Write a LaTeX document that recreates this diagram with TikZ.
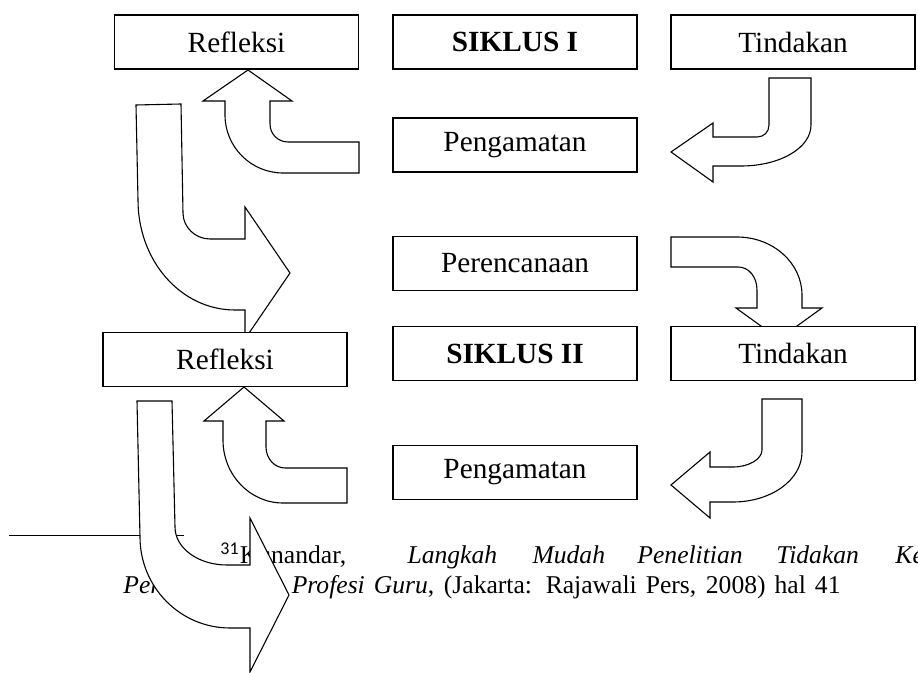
\documentclass[tikz,border=0pt]{standalone}
\usepackage{fontspec}
\setmainfont{Liberation Serif}
\newfontfamily\supfont{Carlito}
\usepackage{tikz}
\tikzstyle{box} = [rectangle, minimum width=100pt, minimum height=22.3pt, inner sep=0pt, text centered, draw=black, fill=white, line width=0.6pt, font=\fontsize{12}{14}\selectfont]
\tikzstyle{blockarrow} = [draw=black, fill=white, line width=0.45pt, line join=miter]
\tikzstyle{footnote} = [anchor=base west, inner sep=0pt, font=\fontsize{10.5}{12.6}\selectfont]

\begin{document}
\begin{tikzpicture}[x=0.41pt, y=-0.41pt]
        \useasboundingbox (0,0) rectangle (918,673);

        \draw [line width=0.4pt] (9,535) -- (184,535);
        \node (fnline1) [footnote] at (220,564) {\makebox[76.7pt][l]{\textsuperscript{\supfont 31}Kunandar,}\makebox[51.25pt][l]{\textit{Langkah}}\makebox[43pt][l]{\textit{Mudah}}\makebox[57pt][l]{\textit{Penelitian}}\makebox[48.8pt][l]{\textit{Tidakan}}\textit{Kelas Sebagai}};
        \node (fnline2) [footnote] at (123,594) {\makebox[294pt][s]{\textit{Pengembangan Profesi Guru}, (Jakarta: Rajawali Pers, 2008) hal 41}};

        \draw [blockarrow] (769,78) -- (811,78) -- (811,125) .. controls (811,148) and (780,166) .. (741,166) -- (713,166) -- (713,182) -- (671,152) -- (713,123) -- (713,137) -- (757,137) .. controls (764,137) and (769,132) .. (769,125) -- cycle;
        \draw [blockarrow] (359,142) -- (288,142) .. controls (278,142) and (270,134) .. (270,124) -- (270,101) -- (292,101) -- (248,70) -- (203,101) -- (225,101) -- (225,115) .. controls (225,147) and (251,173) .. (283,173) -- (359,173) -- cycle;
        \draw [blockarrow] (136,105) -- (181,104) -- (183,213) .. controls (183,227) and (195,239) .. (210,239) -- (245,239) -- (245,207) -- (290,273) -- (245,339) -- (245,310) -- (235,310) .. controls (181,310) and (138,261) .. (138,200) -- cycle;
        \draw [blockarrow] (671,237) -- (737,237) .. controls (773,237) and (802,263) .. (802,295) -- (802,308) -- (822,308) -- (779,339) -- (736,308) -- (757,308) -- (757,290) .. controls (757,277) and (749,267) .. (738,267) -- (671,267) -- cycle;
        \draw [blockarrow] (762,399) -- (802,399) -- (802,452) .. controls (802,480) and (771,502) .. (733,502) -- (710,502) -- (710,518) -- (671,485) -- (710,452) -- (710,467) -- (733,467) .. controls (749,467) and (762,459) .. (762,450) -- cycle;
        \draw [blockarrow] (347,468) -- (285,468) .. controls (275,468) and (266,459) .. (266,447) -- (266,421) -- (284,421) -- (244,387) -- (204,421) -- (223,421) -- (223,440) .. controls (223,475) and (250,503) .. (283,503) -- (347,503) -- cycle;
        \draw [blockarrow] (137,401) -- (172,401) -- (175,527) .. controls (175,548) and (198,565) .. (227,565) -- (250,565) -- (250,518) -- (289,595) -- (250,672) -- (250,628) -- (230,628) .. controls (180,628) and (140,587) .. (140,537) -- cycle;

        \node (refl1) [box] at (236.5,42) {Refleksi};
        \node (siklus1) [box] at (515,42) {\textbf{SIKLUS I}};
        \node (tind1) [box] at (793,42) {Tindakan};
        \node (peng1) [box] at (515,145) {Pengamatan};

        \node (renc) [box] at (515,263.5) {Perencanaan};
        \node (siklus2) [box] at (515,353.5) {\textbf{SIKLUS II}};
        \node (tind2) [box] at (793,353.5) {Tindakan};
        \node (refl2) [box] at (225,359.5) {Refleksi};
        \node (peng2) [box] at (515,472.5) {Pengamatan};
    \end{tikzpicture}
\end{document}
